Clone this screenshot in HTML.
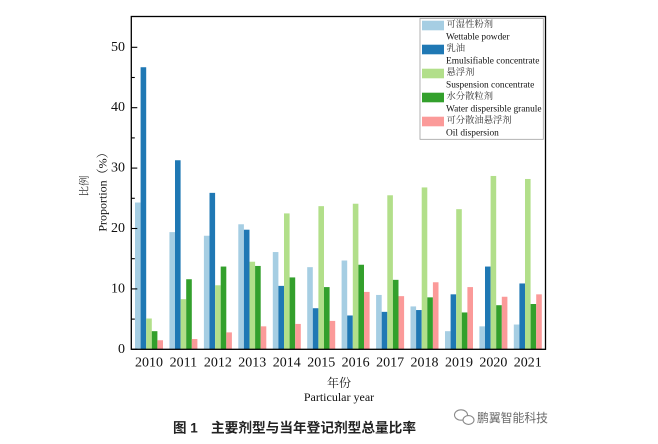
<!DOCTYPE html>
<html>
<head>
<meta charset="utf-8">
<style>
  html,body{margin:0;padding:0;background:#fff;}
  body{width:658px;height:444px;overflow:hidden;}
  svg{display:block;}
</style>
</head>
<body>
<svg width="658" height="444" viewBox="0 0 658 444" xmlns="http://www.w3.org/2000/svg">
  <rect x="0" y="0" width="658" height="444" fill="#fff"/>

  <!-- bars -->
  <g transform="translate(0,349.3) scale(1,-6.04)">
    <g fill="#a6cee3">
      <rect x="135.0" y="0" width="5.6" height="24.3"/>
      <rect x="169.4" y="0" width="5.6" height="19.4"/>
      <rect x="203.9" y="0" width="5.6" height="18.8"/>
      <rect x="238.3" y="0" width="5.6" height="20.7"/>
      <rect x="272.8" y="0" width="5.6" height="16.1"/>
      <rect x="307.2" y="0" width="5.6" height="13.6"/>
      <rect x="341.6" y="0" width="5.6" height="14.7"/>
      <rect x="376.1" y="0" width="5.6" height="9.0"/>
      <rect x="410.5" y="0" width="5.6" height="7.1"/>
      <rect x="445.0" y="0" width="5.6" height="3.0"/>
      <rect x="479.4" y="0" width="5.6" height="3.8"/>
      <rect x="513.8" y="0" width="5.6" height="4.1"/>
    </g>
    <g fill="#1f78b4">
      <rect x="140.6" y="0" width="5.6" height="46.7"/>
      <rect x="175.0" y="0" width="5.6" height="31.3"/>
      <rect x="209.5" y="0" width="5.6" height="25.9"/>
      <rect x="243.9" y="0" width="5.6" height="19.8"/>
      <rect x="278.4" y="0" width="5.6" height="10.5"/>
      <rect x="312.8" y="0" width="5.6" height="6.8"/>
      <rect x="347.2" y="0" width="5.6" height="5.6"/>
      <rect x="381.7" y="0" width="5.6" height="6.2"/>
      <rect x="416.1" y="0" width="5.6" height="6.5"/>
      <rect x="450.6" y="0" width="5.6" height="9.1"/>
      <rect x="485.0" y="0" width="5.6" height="13.7"/>
      <rect x="519.4" y="0" width="5.6" height="10.9"/>
    </g>
    <g fill="#b2df8a">
      <rect x="146.2" y="0" width="5.6" height="5.1"/>
      <rect x="180.6" y="0" width="5.6" height="8.3"/>
      <rect x="215.1" y="0" width="5.6" height="10.6"/>
      <rect x="249.5" y="0" width="5.6" height="14.5"/>
      <rect x="284.0" y="0" width="5.6" height="22.5"/>
      <rect x="318.4" y="0" width="5.6" height="23.7"/>
      <rect x="352.8" y="0" width="5.6" height="24.1"/>
      <rect x="387.3" y="0" width="5.6" height="25.5"/>
      <rect x="421.7" y="0" width="5.6" height="26.8"/>
      <rect x="456.2" y="0" width="5.6" height="23.2"/>
      <rect x="490.6" y="0" width="5.6" height="28.7"/>
      <rect x="525.0" y="0" width="5.6" height="28.2"/>
    </g>
    <g fill="#33a02c">
      <rect x="151.8" y="0" width="5.6" height="3.0"/>
      <rect x="186.2" y="0" width="5.6" height="11.6"/>
      <rect x="220.7" y="0" width="5.6" height="13.7"/>
      <rect x="255.1" y="0" width="5.6" height="13.8"/>
      <rect x="289.6" y="0" width="5.6" height="11.9"/>
      <rect x="324.0" y="0" width="5.6" height="10.3"/>
      <rect x="358.4" y="0" width="5.6" height="14.0"/>
      <rect x="392.9" y="0" width="5.6" height="11.5"/>
      <rect x="427.3" y="0" width="5.6" height="8.6"/>
      <rect x="461.8" y="0" width="5.6" height="6.1"/>
      <rect x="496.2" y="0" width="5.6" height="7.3"/>
      <rect x="530.6" y="0" width="5.6" height="7.5"/>
    </g>
    <g fill="#fb9a99">
      <rect x="157.4" y="0" width="5.6" height="1.5"/>
      <rect x="191.8" y="0" width="5.6" height="1.7"/>
      <rect x="226.3" y="0" width="5.6" height="2.8"/>
      <rect x="260.7" y="0" width="5.6" height="3.8"/>
      <rect x="295.2" y="0" width="5.6" height="4.2"/>
      <rect x="329.6" y="0" width="5.6" height="4.7"/>
      <rect x="364.0" y="0" width="5.6" height="9.5"/>
      <rect x="398.5" y="0" width="5.6" height="8.8"/>
      <rect x="432.9" y="0" width="5.6" height="11.1"/>
      <rect x="467.4" y="0" width="5.6" height="10.3"/>
      <rect x="501.8" y="0" width="5.6" height="8.7"/>
      <rect x="536.2" y="0" width="5.6" height="9.1"/>
    </g>
  </g>

  <!-- axes frame -->
  <rect x="131.3" y="16.5" width="414.2" height="332.8" fill="none" stroke="#000" stroke-width="1.3"/>

  <!-- y ticks (inward) -->
  <g stroke="#000" stroke-width="1.1">
    <line x1="131.3" y1="349.3" x2="137.3" y2="349.3"/>
    <line x1="131.3" y1="288.9" x2="137.3" y2="288.9"/>
    <line x1="131.3" y1="228.5" x2="137.3" y2="228.5"/>
    <line x1="131.3" y1="168.1" x2="137.3" y2="168.1"/>
    <line x1="131.3" y1="107.7" x2="137.3" y2="107.7"/>
    <line x1="131.3" y1="47.3" x2="137.3" y2="47.3"/>
    <line x1="131.3" y1="319.1" x2="134.8" y2="319.1"/>
    <line x1="131.3" y1="258.7" x2="134.8" y2="258.7"/>
    <line x1="131.3" y1="198.3" x2="134.8" y2="198.3"/>
    <line x1="131.3" y1="137.9" x2="134.8" y2="137.9"/>
    <line x1="131.3" y1="77.5" x2="134.8" y2="77.5"/>
  </g>

  <!-- y tick labels -->
  <g font-family="'Liberation Serif', serif" font-size="14" fill="#111" text-anchor="end" dominant-baseline="central">
    <text x="125" y="349.3">0</text>
    <text x="125" y="288.9">10</text>
    <text x="125" y="228.5">20</text>
    <text x="125" y="168.1">30</text>
    <text x="125" y="107.7">40</text>
    <text x="125" y="47.3">50</text>
  </g>

  <!-- x tick labels -->
  <g font-family="'Liberation Serif', serif" font-size="14" fill="#111" text-anchor="middle" dominant-baseline="central">
    <text x="149.0" y="363">2010</text>
    <text x="183.4" y="363">2011</text>
    <text x="217.9" y="363">2012</text>
    <text x="252.3" y="363">2013</text>
    <text x="286.8" y="363">2014</text>
    <text x="321.2" y="363">2015</text>
    <text x="355.6" y="363">2016</text>
    <text x="390.1" y="363">2017</text>
    <text x="424.5" y="363">2018</text>
    <text x="459.0" y="363">2019</text>
    <text x="493.4" y="363">2020</text>
    <text x="527.8" y="363">2021</text>
  </g>

  <!-- axis titles -->
  <text x="339" y="383" font-family="'Liberation Serif','Noto Serif CJK SC',serif" font-size="12" fill="#222" text-anchor="middle" dominant-baseline="central">年份</text>
  <text x="339" y="397" font-family="'Liberation Serif',serif" font-size="12" fill="#111" text-anchor="middle" dominant-baseline="central">Particular year</text>

  <text transform="translate(85,186) rotate(-90)" font-family="'Liberation Serif','Noto Serif CJK SC',serif" font-size="10.5" fill="#333" text-anchor="middle" dominant-baseline="central">比例</text>
  <text transform="translate(102.5,189) rotate(-90)" font-family="'Liberation Serif','Noto Serif CJK SC',serif" font-size="12" fill="#111" text-anchor="middle" dominant-baseline="central">Proportion（%）</text>

  <!-- legend -->
  <rect x="420" y="18.5" width="123.3" height="120.8" fill="#fff" stroke="#a0a0a0" stroke-width="0.8"/>
  <rect x="422" y="20.7" width="22" height="9.6" fill="#a6cee3"/>
  <rect x="422" y="44.7" width="22" height="9.6" fill="#1f78b4"/>
  <rect x="422" y="68.7" width="22" height="9.6" fill="#b2df8a"/>
  <rect x="422" y="92.7" width="22" height="9.6" fill="#33a02c"/>
  <rect x="422" y="116.7" width="22" height="9.6" fill="#fb9a99"/>
  <g font-family="'Liberation Serif','Noto Serif CJK SC',serif" font-size="9.3" fill="#333" dominant-baseline="central">
    <text x="446.5" y="25">可湿性粉剂</text>
    <text x="446.5" y="49">乳油</text>
    <text x="446.5" y="73">悬浮剂</text>
    <text x="446.5" y="97">水分散粒剂</text>
    <text x="446.5" y="121">可分散油悬浮剂</text>
  </g>
  <g font-family="'Liberation Serif',serif" font-size="9.4" fill="#111" dominant-baseline="central">
    <text x="446" y="37.3">Wettable powder</text>
    <text x="446" y="61.3">Emulsifiable concentrate</text>
    <text x="446" y="85.3">Suspension concentrate</text>
    <text x="446" y="109.3">Water dispersible granule</text>
    <text x="446" y="133.3">Oil dispersion</text>
  </g>

  <!-- caption -->
  <g font-family="'Liberation Sans','Noto Sans CJK SC',sans-serif" font-size="13.5" font-weight="bold" fill="#222" dominant-baseline="central">
    <text x="173" y="428">图 1</text>
    <text x="211" y="428" textLength="205" lengthAdjust="spacingAndGlyphs">主要剂型与当年登记剂型总量比率</text>
  </g>

  <!-- watermark -->
  <g fill="none" stroke="#8a8a8a" stroke-width="1.1">
    <ellipse cx="461" cy="415" rx="6.5" ry="5.2"/>
    <ellipse cx="468.5" cy="420" rx="5.5" ry="4.4" fill="#fff"/>
  </g>
  <text x="477" y="418" font-family="'Liberation Sans','Noto Sans CJK SC',sans-serif" font-size="12" fill="#6a6a6a" dominant-baseline="central" textLength="71" lengthAdjust="spacingAndGlyphs">鹏翼智能科技</text>
</svg>
</body>
</html>
